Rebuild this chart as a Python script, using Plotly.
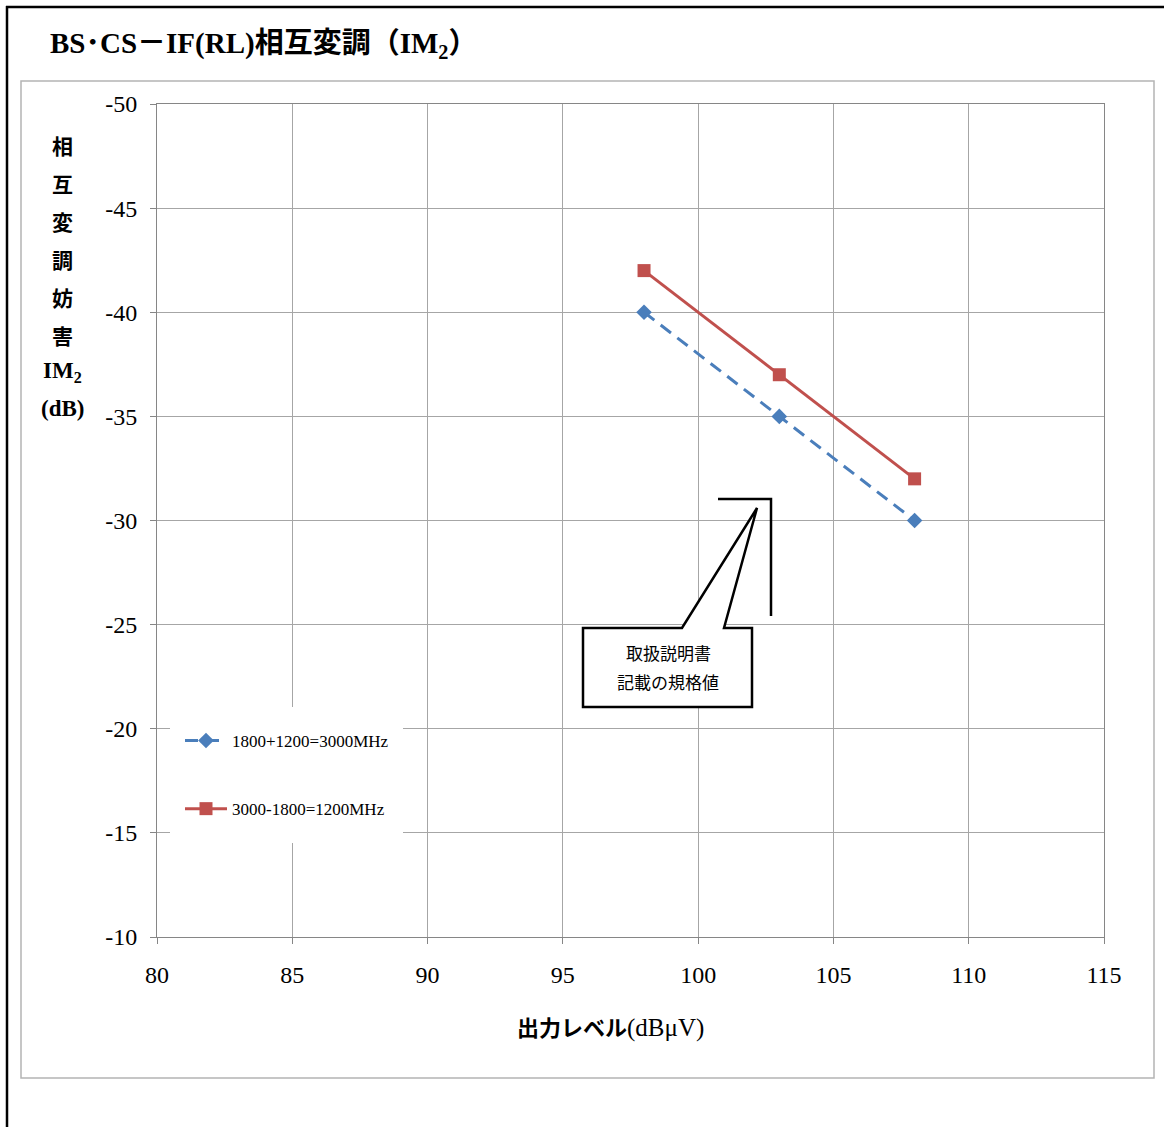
import plotly.graph_objects as go

# ---- data ----
x_levels = [98, 103, 108]
im2_3000 = [-40, -35, -30]   # 1800+1200=3000MHz
im2_1200 = [-42, -37, -32]   # 3000-1800=1200MHz
series_names = ["1800+1200=3000MHz", "3000-1800=1200MHz"]
y_tickvals = [-50, -45, -40, -35, -30, -25, -20, -15, -10]
y_ticktext = ["-50", "-45", "-40", "-35", "-30", "-25", "-20", "-15", "-10"]
x_tickvals = [80, 85, 90, 95, 100, 105, 110, 115]
title_text = "<b>BS･CS－IF(RL)相互変調（IM<sub>2</sub>）</b>"
y_title_lines = ["相", "互", "変", "調", "妨", "害", "IM<sub>2</sub>", "(dB)"]
x_title = "<b>出力レベル</b><span style='font-size:25px'>(dBμV)</span>"
callout_lines = ["取扱説明書", "記載の規格値"]

W, H = 1164, 1127
L, R, T, B = 157, 1104, 104, 937

def px_x(px):
    return (px - L) / (R - L)

def px_y(py):
    return 1 - (py - T) / (B - T)

SERIF = "Liberation Serif, Noto Sans CJK JP"
GOTHIC = "Noto Sans CJK JP"
BLUE = "#4A7EBB"
RED = "#C0504D"
GRID = "#A6A6A6"

fig = go.Figure()
fig.add_trace(go.Scatter(
    x=x_levels, y=im2_3000, name=series_names[0], mode="lines+markers",
    line=dict(color=BLUE, width=3, dash="13px,8px"),
    marker=dict(symbol="diamond", size=12, color=BLUE),
    legendgroup="a",
))
fig.add_trace(go.Scatter(
    x=x_levels, y=im2_1200, name=series_names[1], mode="lines+markers",
    line=dict(color=RED, width=3),
    marker=dict(symbol="square", size=13, color=RED),
    legendgroup="b",
))

fig.update_layout(
    width=W, height=H, autosize=False,
    margin=dict(l=L, r=W - R, t=T, b=H - B, pad=0),
    paper_bgcolor="white", plot_bgcolor="white",
    showlegend=True,
    legend=dict(
        x=px_x(180), y=px_y(723), xanchor="left", yanchor="top",
        bgcolor="rgba(255,255,255,0)", borderwidth=0,
        font=dict(family=SERIF, size=17, color="black"),
        tracegroupgap=43, itemwidth=42,
    ),
    xaxis=dict(
        range=[80, 115], tickvals=x_tickvals, showgrid=True, gridcolor=GRID, gridwidth=1,
        showline=True, mirror=True, linecolor="#868686", linewidth=1,
        ticks="outside", ticklen=6, tickcolor="#868686",
        tickfont=dict(family=SERIF, size=24, color="black"),
        ticklabelstandoff=10, zeroline=False,
    ),
    yaxis=dict(
        range=[-10, -50], tickvals=y_tickvals, ticktext=y_ticktext,
        showgrid=True, gridcolor=GRID, gridwidth=1,
        showline=True, mirror=True, linecolor="#868686", linewidth=1,
        ticks="outside", ticklen=6, tickcolor="#868686",
        tickfont=dict(family=SERIF, size=24, color="black"),
        ticklabelstandoff=8, zeroline=False,
    ),
)

shapes = []
# outer chart-area box
shapes.append(dict(type="rect", xref="paper", yref="paper",
                   x0=px_x(21), x1=px_x(1154), y0=px_y(1078), y1=px_y(81),
                   line=dict(color="#B4B4B4", width=1.5), layer="below"))
# black frame lines (top, left)
shapes.append(dict(type="line", xref="paper", yref="paper",
                   x0=px_x(6), x1=px_x(1164), y0=px_y(7), y1=px_y(7),
                   line=dict(color="black", width=2.5)))
shapes.append(dict(type="line", xref="paper", yref="paper",
                   x0=px_x(7), x1=px_x(7), y0=px_y(6), y1=px_y(1127),
                   line=dict(color="black", width=2.5)))
# legend background (covers gridlines)
shapes.append(dict(type="rect", xref="paper", yref="paper",
                   x0=px_x(170), x1=px_x(403), y0=px_y(843), y1=px_y(707),
                   fillcolor="white", line=dict(width=0), layer="above"))
# bracket
shapes.append(dict(type="path", xref="paper", yref="paper",
                   path="M {} {} L {} {} L {} {}".format(px_x(718), px_y(499), px_x(771), px_y(499), px_x(771), px_y(616)),
                   line=dict(color="black", width=2.5)))
# callout
pts = [(583, 628), (682, 628), (757, 508), (724, 628), (752, 628), (752, 707), (583, 707)]
path = "M " + " L ".join("{} {}".format(px_x(a), px_y(b)) for a, b in pts) + " Z"
shapes.append(dict(type="path", xref="paper", yref="paper", path=path,
                   fillcolor="white", line=dict(color="black", width=2.5)))
fig.update_layout(shapes=shapes)

ann = []
ann.append(dict(text=title_text, xref="paper", yref="paper", x=px_x(48), y=px_y(45),
                xanchor="left", yanchor="middle", showarrow=False,
                font=dict(family=SERIF, size=29, color="black")))
y_centers = [145, 183, 221, 259, 297, 335, 372, 408]
for txt, yc in zip(y_title_lines, y_centers):
    latin = ("IM" in txt or "dB" in txt)
    ann.append(dict(text="<b>" + txt + "</b>",
                    xref="paper", yref="paper", x=px_x(62), y=px_y(yc),
                    xanchor="center", yanchor="middle", showarrow=False,
                    font=dict(family=SERIF if latin else GOTHIC,
                              size=23 if latin else 21, color="black")))
ann.append(dict(text=x_title, xref="paper", yref="paper", x=px_x(610), y=px_y(1028),
                xanchor="center", yanchor="middle", showarrow=False,
                font=dict(family=SERIF, size=22, color="black")))
for txt, yc in zip(callout_lines, [652, 681]):
    ann.append(dict(text=txt, xref="paper", yref="paper", x=px_x(668), y=px_y(yc),
                    xanchor="center", yanchor="middle", showarrow=False,
                    font=dict(family=GOTHIC, size=17, color="black")))
fig.update_layout(annotations=ann)

fig.write_html("out.html")
